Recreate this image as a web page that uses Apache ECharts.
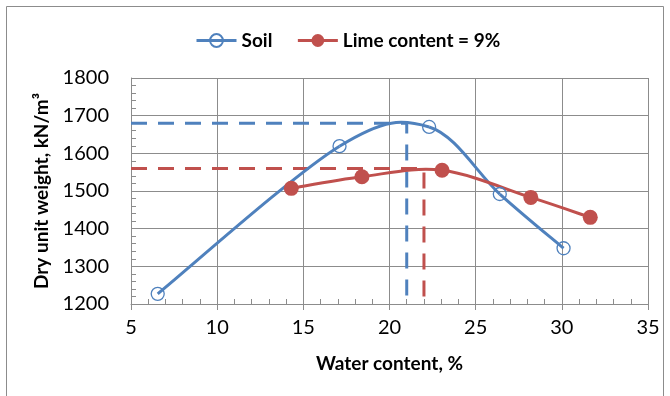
<!DOCTYPE html>
<html>
<head>
<meta charset="utf-8">
<script src="https://cdn.jsdelivr.net/npm/echarts@6/dist/echarts.min.js"></script>
<style>html,body{margin:0;padding:0;background:#fff}#c{width:670px;height:396px}</style>
</head>
<body>
<div id="c"></div>
<script>
// Data
const soilX = [6.55, 17.1, 22.3, 26.4, 30.1];
const soilY = [1227, 1619, 1670, 1492, 1348];
const limeX = [14.3, 18.4, 23.05, 28.2, 31.65];
const limeY = [1507, 1538, 1555, 1483, 1430];
// Optimum (max dry unit weight / optimum water content) guide lines
const soilOptX = [5, 21, 21];
const soilOptY = [1680, 1680, 1200];
const limeOptX = [5, 22, 22];
const limeOptY = [1560, 1560, 1200];
const xTicks = {min: 5, max: 35, interval: 5};
const yTicks = {min: 1200, max: 1800, interval: 100};
const seriesNames = ['Soil', 'Lime content = 9%'];

const BLUE = '#4F81BD', RED = '#C0504D', GRID = '#8c8c8c';
const FONT = 'Lato';

function pairs(xs, ys) { return xs.map((x, i) => [x, ys[i]]); }

function splineSeries(xs, ys, color) {
  const n = xs.length;
  return {
    type: 'custom', xAxisIndex: 0, yAxisIndex: 0, z: 3, silent: true,
    data: pairs(xs, ys), encode: {x: 0, y: 1},
    renderItem: function (params, api) {
      const i = params.dataIndex;
      if (i >= n - 1) return null;
      const P = k => { k = Math.max(0, Math.min(n - 1, k)); return api.coord([xs[k], ys[k]]); };
      const p0 = P(i - 1), p1 = P(i), p2 = P(i + 1), p3 = P(i + 2);
      return {
        type: 'bezierCurve',
        shape: {
          x1: p1[0], y1: p1[1], x2: p2[0], y2: p2[1],
          cpx1: p1[0] + (p2[0] - p0[0]) / 6, cpy1: p1[1] + (p2[1] - p0[1]) / 6,
          cpx2: p2[0] - (p3[0] - p1[0]) / 6, cpy2: p2[1] - (p3[1] - p1[1]) / 6
        },
        style: {stroke: color, lineWidth: 3, fill: 'none'}
      };
    }
  };
}

function guideSeries(xs, ys, color) {
  return {
    type: 'line', xAxisIndex: 0, yAxisIndex: 0, z: 2, silent: true,
    data: pairs(xs, ys), showSymbol: false, symbol: 'none',
    lineStyle: {color: color, width: 3, type: [16, 11], cap: 'butt'}
  };
}

const chart = echarts.init(document.getElementById('c'));
chart.setOption({
  animation: false,
  backgroundColor: '#fff',
  graphic: [{
    type: 'rect', shape: {x: 6.5, y: 6.5, width: 657, height: 420},
    style: {fill: 'none', stroke: GRID, lineWidth: 1}, silent: true, z: -10
  }],
  grid: {left: 131, right: 22, top: 78, bottom: 92},
  legend: {
    left: 190, top: 26, itemWidth: 40, itemHeight: 16, itemGap: 24,
    textStyle: {fontFamily: FONT, fontWeight: 'bold', fontSize: 19, color: '#000'},
    data: [
      {name: seriesNames[0], lineStyle: {opacity: 1, width: 3, color: BLUE}},
      {name: seriesNames[1], lineStyle: {opacity: 1, width: 3, color: RED}}
    ]
  },
  xAxis: [{
    type: 'value', position: 'bottom', min: xTicks.min, max: xTicks.max, interval: xTicks.interval,
    name: 'Water content, %', nameLocation: 'middle', nameGap: 50,
    nameTextStyle: {fontFamily: FONT, fontWeight: 'bold', fontSize: 19, color: '#000'},
    axisLine: {show: true, lineStyle: {color: GRID, width: 1}},
    axisTick: {show: true, length: 6, lineStyle: {color: GRID}},
    axisLabel: {fontFamily: FONT, fontSize: 20, color: '#000', margin: 14},
    splitLine: {show: true, lineStyle: {color: GRID, width: 1}}
  }, {
    type: 'value', position: 'bottom', gridIndex: 0, min: xTicks.min, max: xTicks.max, interval: xTicks.interval,
    axisLine: {show: false}, axisLabel: {show: false}, splitLine: {show: false},
    axisTick: {show: false, inside: true},
    minorTick: {show: true, splitNumber: 5, length: 5, lineStyle: {color: GRID, width: 1}}
  }],
  yAxis: [{
    type: 'value', min: yTicks.min, max: yTicks.max, interval: yTicks.interval,
    name: 'Dry unit weight, kN/m\u00B3', nameLocation: 'middle', nameGap: 70, nameRotate: 90,
    nameTextStyle: {fontFamily: FONT, fontWeight: 'bold', fontSize: 19, color: '#000'},
    axisLine: {show: true, lineStyle: {color: GRID, width: 1}},
    axisTick: {show: false, inside: true},
    minorTick: {show: true, splitNumber: 5, length: 5, lineStyle: {color: GRID, width: 1}},
    axisLabel: {fontFamily: FONT, fontSize: 20, color: '#000', margin: 22, formatter: v => String(v)},
    splitLine: {show: true, lineStyle: {color: GRID, width: 1}}
  }],
  series: [
    guideSeries(soilOptX, soilOptY, BLUE),
    guideSeries(limeOptX, limeOptY, RED),
    splineSeries(soilX, soilY, BLUE),
    splineSeries(limeX, limeY, RED),
    {
      name: seriesNames[0], type: 'line', z: 5, data: pairs(soilX, soilY),
      symbol: 'circle', symbolSize: 13,
      itemStyle: {color: 'rgba(255,255,255,0)', borderColor: BLUE, borderWidth: 1.3},
      lineStyle: {opacity: 0, color: BLUE, width: 3}
    },
    {
      name: seriesNames[1], type: 'line', z: 5, data: pairs(limeX, limeY),
      symbol: 'circle', symbolSize: 15,
      itemStyle: {color: RED},
      lineStyle: {opacity: 0, color: RED, width: 3}
    }
  ]
});
</script>
</body>
</html>
